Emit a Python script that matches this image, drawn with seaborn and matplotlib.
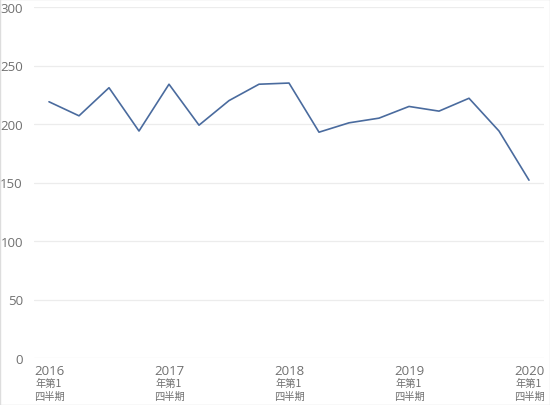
import matplotlib
matplotlib.use("Agg")
import matplotlib.pyplot as plt
import matplotlib.transforms as mtransforms
import seaborn as sns
import pandas as pd

quarters = ["2016Q1","2016Q2","2016Q3","2016Q4","2017Q1","2017Q2","2017Q3","2017Q4",
            "2018Q1","2018Q2","2018Q3","2018Q4","2019Q1","2019Q2","2019Q3","2019Q4","2020Q1"]
values = [219, 207, 231, 194, 234, 199, 220, 234, 235, 193, 201, 205, 215, 211, 222, 194, 152]
year_labels = ["2016", "2017", "2018", "2019", "2020"]
sub_line1 = "年第1"
sub_line2 = "四半期"
y_ticks = [0, 50, 100, 150, 200, 250, 300]

df = pd.DataFrame({"idx": range(len(quarters)), "quarter": quarters, "value": values})

sns.set_theme(style="white")
plt.rcParams['font.family'] = ['Open Sans', 'Noto Sans CJK JP', 'DejaVu Sans']

fig = plt.figure(figsize=(5.5, 4.06), dpi=100)
ax = fig.add_axes([34/550, 1-359/406, 510/550, 351/406])

sns.lineplot(data=df, x="idx", y="value", ax=ax, color="#4a6b9e", linewidth=1.2)

ax.set_xlim(-0.5, len(quarters)-0.5)
ax.set_ylim(0, 300)
ax.set_yticks(y_ticks)
tick_pos = [i for i, q in enumerate(quarters) if q.endswith("Q1")]
ax.set_xticks(tick_pos)
ax.set_xticklabels(year_labels)
ax.set_xlabel("")
ax.set_ylabel("")
for s in ax.spines.values():
    s.set_visible(False)
ax.grid(axis="y", color="#ececec", linewidth=0.9)
ax.set_axisbelow(True)
ax.tick_params(axis="both", length=0, labelsize=9.5, colors="#707070")
ax.tick_params(axis="y", pad=8)
ax.tick_params(axis="x", pad=4)

base = ax.get_xaxis_transform()
t1 = base + mtransforms.ScaledTranslation(0, -24.5/100, fig.dpi_scale_trans)
t2 = base + mtransforms.ScaledTranslation(0, -38/100, fig.dpi_scale_trans)
for p in tick_pos:
    ax.text(p, 0, sub_line1, transform=t1, ha="center", va="center",
            fontsize=7.4, color="#707070", family=['Noto Sans CJK JP'], clip_on=False)
    ax.text(p, 0, sub_line2, transform=t2, ha="center", va="center",
            fontsize=7.4, color="#707070", family=['Noto Sans CJK JP'], clip_on=False)

fig.patches.append(plt.Rectangle((0, 0), 1, 1, transform=fig.transFigure,
                                 fill=False, edgecolor="#dddddd", linewidth=1))

fig.savefig("out.png", dpi=100)
